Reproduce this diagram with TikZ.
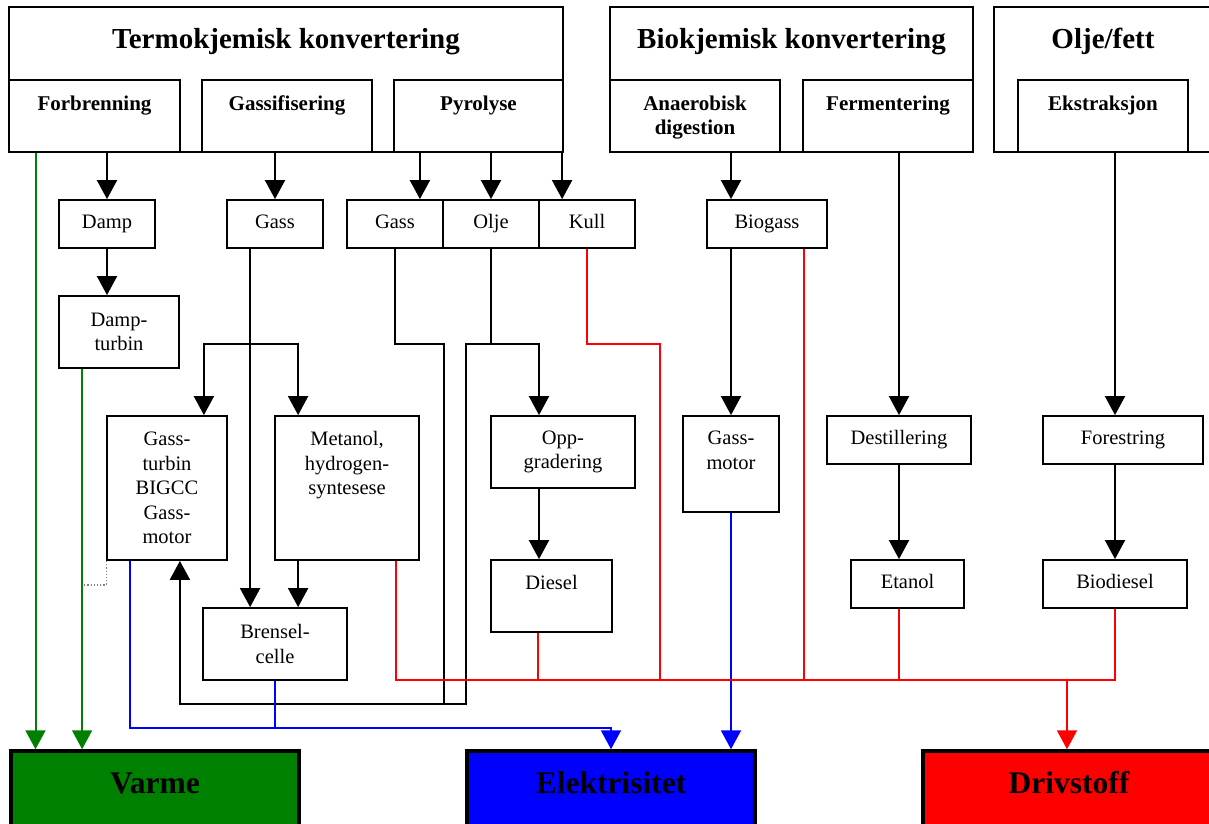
\documentclass[tikz,border=0pt]{standalone}
\usepackage{fontspec}
\setmainfont{Liberation Serif}
\usetikzlibrary{arrows.meta,positioning}
\definecolor{heatGreen}{RGB}{0,128,0}
\definecolor{powerBlue}{RGB}{0,0,255}
\definecolor{fuelRed}{RGB}{255,0,0}

\begin{document}
\begin{tikzpicture}
[x=1pt, y=-1pt,
  boxDecorate/.style={draw, line width=1.8pt, inner sep=0pt, align=center,
    font=\fontsize{20.5}{24.5}\selectfont},%
  oneLine/.style={boxDecorate, minimum height=48pt, text height=14pt, text depth=4.5pt},%
  stepText/.style={inner sep=0pt, align=center, font=\fontsize{20.5}{24.5}\selectfont},%
  groupDecorate/.style={draw, line width=2.8pt, inner sep=0pt, minimum height=145pt},%
  subDecorate/.style={draw, line width=2.8pt, inner sep=0pt, minimum height=72pt},%
  subText/.style={inner sep=0pt, align=center, font=\bfseries\fontsize{21}{24}\selectfont},%
  titleText/.style={anchor=base, font=\bfseries\fontsize{29}{34}\selectfont},%
  outDecorate/.style={draw, line width=3.5pt, inner sep=0pt, minimum height=84pt,
    text height=22pt, text depth=22pt, font=\bfseries\fontsize{31.5}{36}\selectfont},%
  lineDecorate/.style={line width=2pt},%
  arrowDecorate/.style={lineDecorate, -{Triangle[width=20pt,length=19pt]}},%
  greyDots/.style={dotted, gray, line width=1.2pt}]
\useasboundingbox (0,0) rectangle (1209,823);

%% process groups
\node (termo) at (286,79.5) [groupDecorate, minimum width=554pt] {};
\node (bio) at (791.5,79.5) [groupDecorate, minimum width=363pt] {};
\node (fett) at (1103,79.5) [groupDecorate, minimum width=218pt] {};
\node (termoT) at (286,48) [titleText] {Termokjemisk konvertering};
\node (bioT) at (791.5,48) [titleText] {Biokjemisk konvertering};
\node (fettT) at (1103,48) [titleText] {Olje/fett};
\foreach \nodename/\x/\w/\txt in {
  forbr/94.5/171/Forbrenning, gassif/287/170/Gassifisering, pyro/478.5/169/Pyrolyse,
  anaer/695/170/{Anaerobisk\\digestion}, ferm/888/170/Fermentering, ekstr/1103/170/Ekstraksjon}
{
  \node (\nodename) at (\x,116) [subDecorate, minimum width=\w pt] {};
  \node (\nodename T) [subText, below=17pt of \nodename.north] {\txt};
}

%% intermediate products and steps
\foreach \nodename/\x/\y/\w/\txt in {
  damp/107/224/96/Damp, gassA/275/224/96/Gass, gassB/395/224/96/Gass,
  olje/491/224/96/Olje, kull/587/224/96/Kull, biogass/767/224/120/Biogass,
  destill/899/440/144/Destillering, forestr/1123/440/160/Forestring,
  etanol/907.5/584/113/Etanol, biodiesel/1115/584/144/Biodiesel}
{
  \node (\nodename) at (\x,\y) [oneLine, minimum width=\w pt] {\txt};
}
\node (dturb) at (119,332) [boxDecorate, minimum width=120pt, minimum height=72pt] {Damp-\\turbin};
\node (gturb) at (167,488) [boxDecorate, minimum width=120pt, minimum height=144pt] {Gass-\\turbin\\BIGCC\\Gass-\\motor};
\node (metanol) at (347,488) [boxDecorate, minimum width=144pt, minimum height=144pt] {};
\node (metanolT) [stepText, below=16pt of metanol.north] {Metanol,\\hydrogen-\\syntesese};
\node (brensel) at (275,644) [boxDecorate, minimum width=144pt, minimum height=72pt] {Brensel-\\celle};
\node (oppgr) at (563,452) [boxDecorate, minimum width=144pt, minimum height=72pt] {Opp-\\gradering};
\node (diesel) at (551.5,596) [boxDecorate, minimum width=121pt, minimum height=72pt] {};
\node (dieselT) [stepText, below=16pt of diesel.north] {Diesel};
\node (gmotor) at (731,464) [boxDecorate, minimum width=96pt, minimum height=96pt] {};
\node (gmotorT) [stepText, below=16pt of gmotor.north] {Gass-\\motor};

%% end uses
\node (varme) at (155,793) [outDecorate, fill=heatGreen, minimum width=288pt] {Varme};
\node (elektr) at (611,793) [outDecorate, fill=powerBlue, minimum width=288pt] {Elektrisitet};
\node (drivst) at (1069,793) [outDecorate, fill=fuelRed, minimum width=292pt] {Drivstoff};

%% routing rows
\coordinate (rowA) at (0,344);
\coordinate (rowB) at (0,704);
\coordinate (rowC) at (0,728);
\coordinate (rowD) at (0,680);
\coordinate (pyG) at ([xshift=-24pt]gassB.north east);
\coordinate (pyK) at ([xshift=24pt]kull.north west);
\coordinate (ga) at ([xshift=24pt]gassA.south west);
\coordinate (oa) at ([xshift=24pt]olje.south west);
\coordinate (ma) at ([xshift=24pt]metanol.south west);
\coordinate (op) at ([xshift=-24pt]oppgr.north);
\coordinate (gA) at ([xshift=-59pt]forbr.south);
\coordinate (gB) at ([xshift=24pt]dturb.south west);

%% black flows
\foreach \startnode/\endnode in {
  damp.north |- forbr.south/damp.north, damp.south/damp.south |- dturb.north,
  gassA.north |- gassif.south/gassA.north, pyG |- pyro.south/pyG,
  olje.north |- pyro.south/olje.north, pyK |- pyro.south/pyK,
  gmotor.north |- anaer.south/gmotor.north |- biogass.north,
  gmotor.north |- biogass.south/gmotor.north,
  destill.north |- ferm.south/destill.north, destill.south/destill.south |- etanol.north,
  biodiesel.north |- ekstr.south/biodiesel.north |- forestr.north,
  biodiesel.north |- forestr.south/biodiesel.north,
  ga/ga |- brensel.north, ma/ma |- brensel.north,
  op |- oppgr.south/op |- diesel.north}
{
  \draw[arrowDecorate] (\startnode) -- (\endnode);
}
\draw[arrowDecorate] (ga |- rowA) -| ([xshift=-24pt]gturb.north east);
\draw[arrowDecorate] (ga |- rowA) -| ([xshift=24pt]metanol.north west);
\draw[lineDecorate] (gassB.south) |- (gassB.south east |- rowA) -- (gassB.south east |- rowB);
\draw[arrowDecorate] (olje.south) |- (oa |- rowA) -- (oa |- rowB) -| ([xshift=-48pt]gturb.south east);
\draw[arrowDecorate] (oa |- rowA) -| (op);

%% heat
\foreach \src in {gA, gB}
{
  \draw[arrowDecorate, heatGreen] (\src) -- (\src |- varme.north);
}
\draw[greyDots] (gturb.south west) |- ([yshift=-24pt]gB |- gturb.south west);

%% electricity
\draw[arrowDecorate, powerBlue] ([xshift=24pt]gturb.south west) |- (elektr.north |- rowC) -- (elektr.north);
\draw[lineDecorate, powerBlue] (brensel.south) -- (brensel.south |- rowC);
\draw[arrowDecorate, powerBlue] (gmotor.south) -- (gmotor.south |- elektr.north);

%% fuel
\draw[lineDecorate, fuelRed] (kull.south) |- ([xshift=24pt]kull.south east |- rowA) -- ([xshift=24pt]kull.south east |- rowD);
\draw[lineDecorate, fuelRed] ([xshift=-24pt]metanol.south east) coordinate (mr) -- (mr |- rowD) -- (biodiesel.south |- rowD) -- (biodiesel.south);
\draw[lineDecorate, fuelRed] ([xshift=48pt]diesel.south west) -- ([xshift=48pt]diesel.south west |- rowD);
\draw[lineDecorate, fuelRed] ([xshift=-24pt]biogass.south east) -- ([xshift=-24pt]biogass.south east |- rowD);
\draw[lineDecorate, fuelRed] (destill.south |- etanol.south) -- (destill.south |- rowD);
\draw[arrowDecorate, fuelRed] ([xshift=-2pt]drivst.north |- rowD) -- ([xshift=-2pt]drivst.north);
\end{tikzpicture}
\end{document}
